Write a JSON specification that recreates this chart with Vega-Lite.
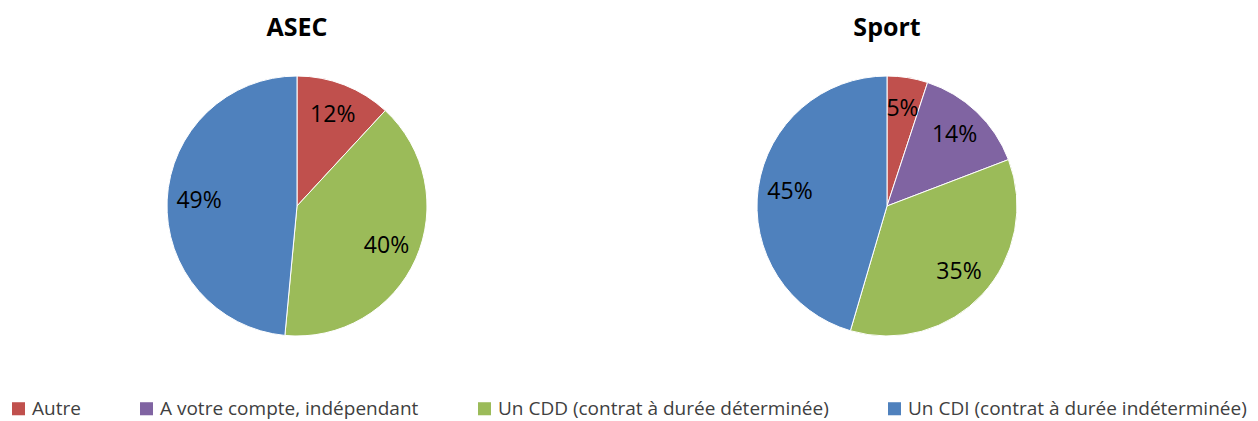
{
  "$schema": "https://vega.github.io/schema/vega-lite/v6.json",
  "background": "white",
  "padding": {"left": 2, "top": 16, "right": 0, "bottom": 0},
  "data": {
    "values": [
      {"groupe": "ASEC", "categorie": "Autre", "part": 0.12, "ordre": 1},
      {"groupe": "ASEC", "categorie": "Un CDD (contrat à durée déterminée)", "part": 0.40, "ordre": 3},
      {"groupe": "ASEC", "categorie": "Un CDI (contrat à durée indéterminée)", "part": 0.49, "ordre": 4},
      {"groupe": "Sport", "categorie": "Autre", "part": 0.05, "ordre": 1},
      {"groupe": "Sport", "categorie": "A votre compte, indépendant", "part": 0.14, "ordre": 2},
      {"groupe": "Sport", "categorie": "Un CDD (contrat à durée déterminée)", "part": 0.35, "ordre": 3},
      {"groupe": "Sport", "categorie": "Un CDI (contrat à durée indéterminée)", "part": 0.45, "ordre": 4}
    ]
  },
  "hconcat": [
    {
      "title": {"text": "ASEC"},
      "width": 590,
      "height": 300,
      "transform": [{"filter": "datum.groupe === 'ASEC'"}],
      "encoding": {
        "theta": {"field": "part", "type": "quantitative", "stack": true},
        "order": {"field": "ordre", "type": "quantitative"},
        "color": {
          "field": "categorie",
          "type": "nominal",
          "scale": {
            "domain": ["Autre", "A votre compte, indépendant", "Un CDD (contrat à durée déterminée)", "Un CDI (contrat à durée indéterminée)"],
            "range": ["#C0504D", "#8064A2", "#9BBB59", "#4F81BD"]
          },
          "legend": {"title": null}
        }
      },
      "layer": [
        {"mark": {"type": "arc", "outerRadius": 130, "stroke": "white", "strokeWidth": 1}},
        {"mark": {"type": "text", "radius": 98, "fontSize": 23, "font": "Open Sans", "color": "black"},
         "encoding": {"text": {"field": "part", "type": "quantitative", "format": ".0%"}, "color": {"value": "black"}}}
      ]
    },
    {
      "title": {"text": "Sport"},
      "width": 590,
      "height": 300,
      "transform": [{"filter": "datum.groupe === 'Sport'"}],
      "encoding": {
        "theta": {"field": "part", "type": "quantitative", "stack": true},
        "order": {"field": "ordre", "type": "quantitative"},
        "color": {
          "field": "categorie",
          "type": "nominal",
          "scale": {
            "domain": ["Autre", "A votre compte, indépendant", "Un CDD (contrat à durée déterminée)", "Un CDI (contrat à durée indéterminée)"],
            "range": ["#C0504D", "#8064A2", "#9BBB59", "#4F81BD"]
          },
          "legend": {"title": null}
        }
      },
      "layer": [
        {"mark": {"type": "arc", "outerRadius": 130, "stroke": "white", "strokeWidth": 1}},
        {"mark": {"type": "text", "radius": 98, "fontSize": 23, "font": "Open Sans", "color": "black"},
         "encoding": {"text": {"field": "part", "type": "quantitative", "format": ".0%"}, "color": {"value": "black"}}}
      ]
    }
  ],
  "spacing": 0,
  "config": {
    "view": {"stroke": null},
    "title": {"fontSize": 25, "font": "Open Sans", "fontWeight": "bold", "color": "black", "offset": 15, "anchor": "middle"},
    "legend": {
      "orient": "none",
      "legendX": 7,
      "legendY": 343,
      "direction": "horizontal",
      "symbolType": "square",
      "symbolSize": 170,
      "symbolStrokeWidth": 0,
      "labelFont": "Open Sans",
      "labelFontSize": 19,
      "labelColor": "#404040",
      "labelLimit": 500,
      "columnPadding": 56
    }
  }
}
